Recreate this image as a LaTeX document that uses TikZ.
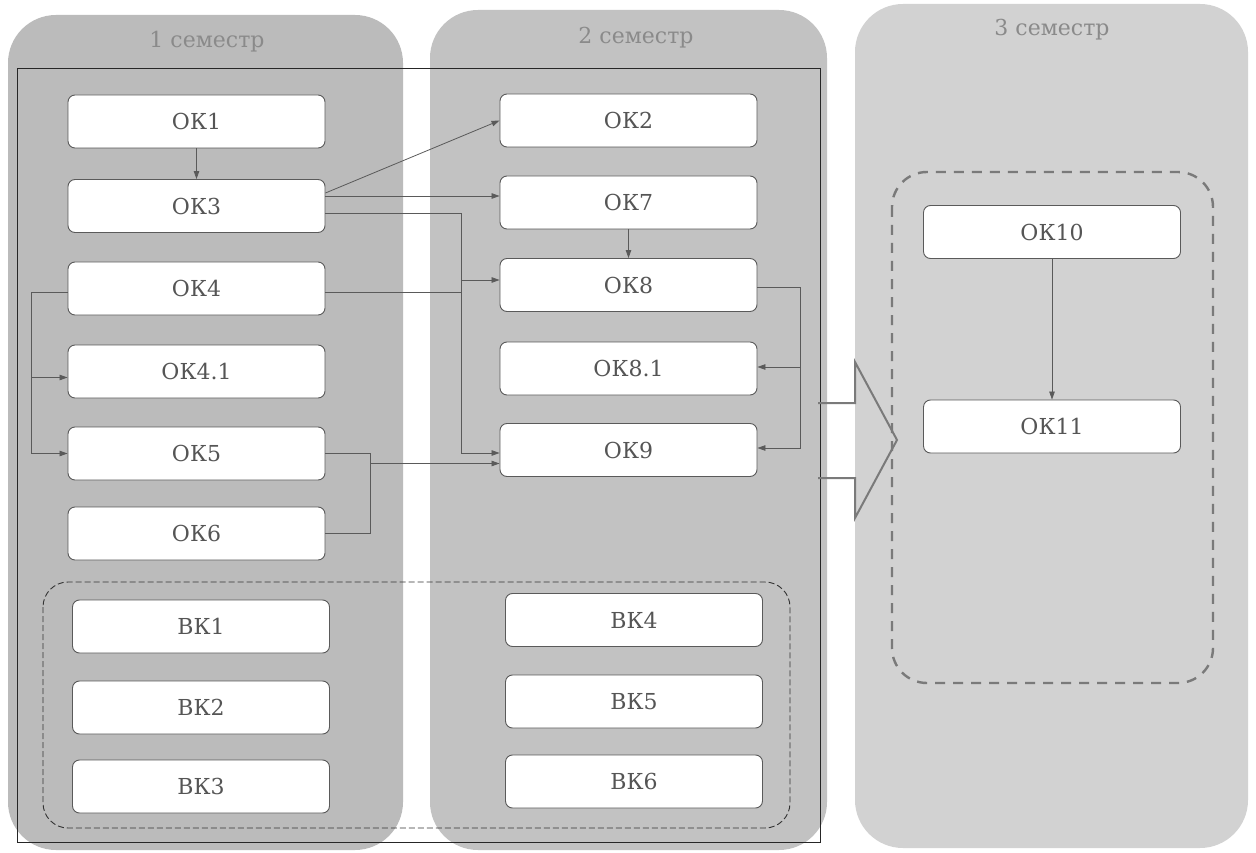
\documentclass[tikz,border=0pt]{standalone}
\usepackage{fontspec}
\setmainfont{DejaVu Serif}
\usetikzlibrary{arrows.meta,calc}
\definecolor{colA}{HTML}{BBBBBB}
\definecolor{colB}{HTML}{C2C2C2}
\definecolor{colC}{HTML}{D2D2D2}
\definecolor{txt}{HTML}{555555}
\definecolor{ttl}{HTML}{8A8A8A}
\definecolor{ln}{HTML}{5A5A5A}
\definecolor{blk}{HTML}{7A7A7A}
\tikzset{
  kbox/.style={rectangle, rounded corners=7pt, draw=ln, line width=0.9pt, fill=white,
    minimum width=257pt, minimum height=53pt, inner sep=0pt, text=txt,
    font=\fontsize{22}{26}\selectfont},
  ttlnode/.style={text=ttl, font=\fontsize{22}{26}\selectfont, inner sep=0pt},
  colbg/.style={rounded corners=48pt, draw=none},
  conn/.style={draw=ln, line width=0.8pt},
  arr/.style={conn, -{Triangle[length=8pt,width=5.5pt]}},
}
\begin{document}
\begin{tikzpicture}[x=1pt,y=-1pt]
\useasboundingbox[fill=white] (0,0) rectangle (1256,853);
% column backgrounds
\fill[colbg, fill=colA] (8,15) rectangle (403,850);
\fill[colbg, fill=colB] (430,10) rectangle (827,850);
\fill[colbg, fill=colC] (855,4) rectangle (1248,848);
% titles
\node[ttlnode] (t1) at (207,42) {1 семестр};
\node[ttlnode] (t2) at (636,38) {2 семестр};
\node[ttlnode] (t3) at (1052,30) {3 семестр};
% frames
\draw[black!85, line width=0.9pt] (17,68) rectangle (820,842);
\draw[black!80, line width=0.9pt, dash pattern=on 6pt off 3pt, rounded corners=25pt] (43,582) rectangle (790,828);
\draw[blk, line width=2.4pt, dash pattern=on 10pt off 8pt, rounded corners=35pt] (892,172) rectangle (1213,683);
% column 1
\node[kbox] (OK1) at (196.5,121.5) {ОК1};
\node[kbox] (OK3) at (196.5,206) {ОК3};
\node[kbox] (OK4) at (196.5,288.5) {ОК4};
\node[kbox] (OK41) at (196.5,371.5) {ОК4.1};
\node[kbox] (OK5) at (196.5,453.5) {ОК5};
\node[kbox] (OK6) at (196.5,533.5) {ОК6};
\node[kbox] (BK1) at (201,626.5) {ВК1};
\node[kbox] (BK2) at (201,707.5) {ВК2};
\node[kbox] (BK3) at (201,786.5) {ВК3};
% column 2
\node[kbox] (OK2) at (628.5,120.5) {ОК2};
\node[kbox] (OK7) at (628.5,202.5) {ОК7};
\node[kbox] (OK8) at (628.5,285) {ОК8};
\node[kbox] (OK81) at (628.5,368.5) {ОК8.1};
\node[kbox] (OK9) at (628.5,450) {ОК9};
\node[kbox] (BK4) at (634,620) {ВК4};
\node[kbox] (BK5) at (634,701.5) {ВК5};
\node[kbox] (BK6) at (634,781.5) {ВК6};
% column 3
\node[kbox] (OK10) at (1052,232) {ОК10};
\node[kbox] (OK11) at (1052,426.5) {ОК11};
% helper coordinates
\coordinate (j3) at ($(OK9.west)+(-38,3)$);
\coordinate (j3e) at ($(OK9.west)+(0,3)$);
\coordinate (j4) at ($(OK8.west)+(-38,-5)$);
\coordinate (j4e) at ($(OK8.west)+(0,-5)$);
\coordinate (jl) at ($(OK5.west)+(-36,0)$);
\coordinate (jl41) at ($(OK41.west)+(-36,6)$);
\coordinate (jl41e) at ($(OK41.west)+(0,6)$);
\coordinate (j5) at ($(OK5.east)+(45,0)$);
\coordinate (j56) at ($(OK5.east)+(45,10)$);
\coordinate (j8) at ($(OK9.east)+(43,-2)$);
\coordinate (j8e) at ($(OK9.east)+(0,-2)$);
\coordinate (j81) at ($(OK81.east)+(43,-1.5)$);
\coordinate (j81e) at ($(OK81.east)+(0,-1.5)$);
% connectors
\draw[arr] (OK1) -- (OK3);
\draw[arr] ([yshift=13pt]OK3.east) -- (OK2.west);
\draw[arr] ([yshift=10pt]OK3.east) -- ([yshift=10pt]OK3.east -| OK7.west);
\draw[arr] ([yshift=-7pt]OK3.east) -| (j3) -- (j3e);
\draw[arr] ([yshift=-4pt]OK4.east) -| (j4) -- (j4e);
\draw[arr] ([yshift=-4pt]OK4.west) -| (jl) -- (OK5.west);
\draw[arr] (jl41) -- (jl41e);
\draw[conn] (OK5.east) -- (j5) |- (OK6.east);
\draw[arr] (j56) -- (j56 -| OK9.west);
\draw[arr] (OK7) -- (OK8);
\draw[arr] ([yshift=-2pt]OK8.east) -| (j8) -- (j8e);
\draw[arr] (j81) -- (j81e);
\draw[arr] (OK10) -- (OK11);
% block arrow between semesters
\draw[blk, line width=2pt, line join=miter] (818,403) -- (855,403) -- (855,362) -- (897,440) -- (855,518) -- (855,478) -- (818,478);
\end{tikzpicture}
\end{document}
